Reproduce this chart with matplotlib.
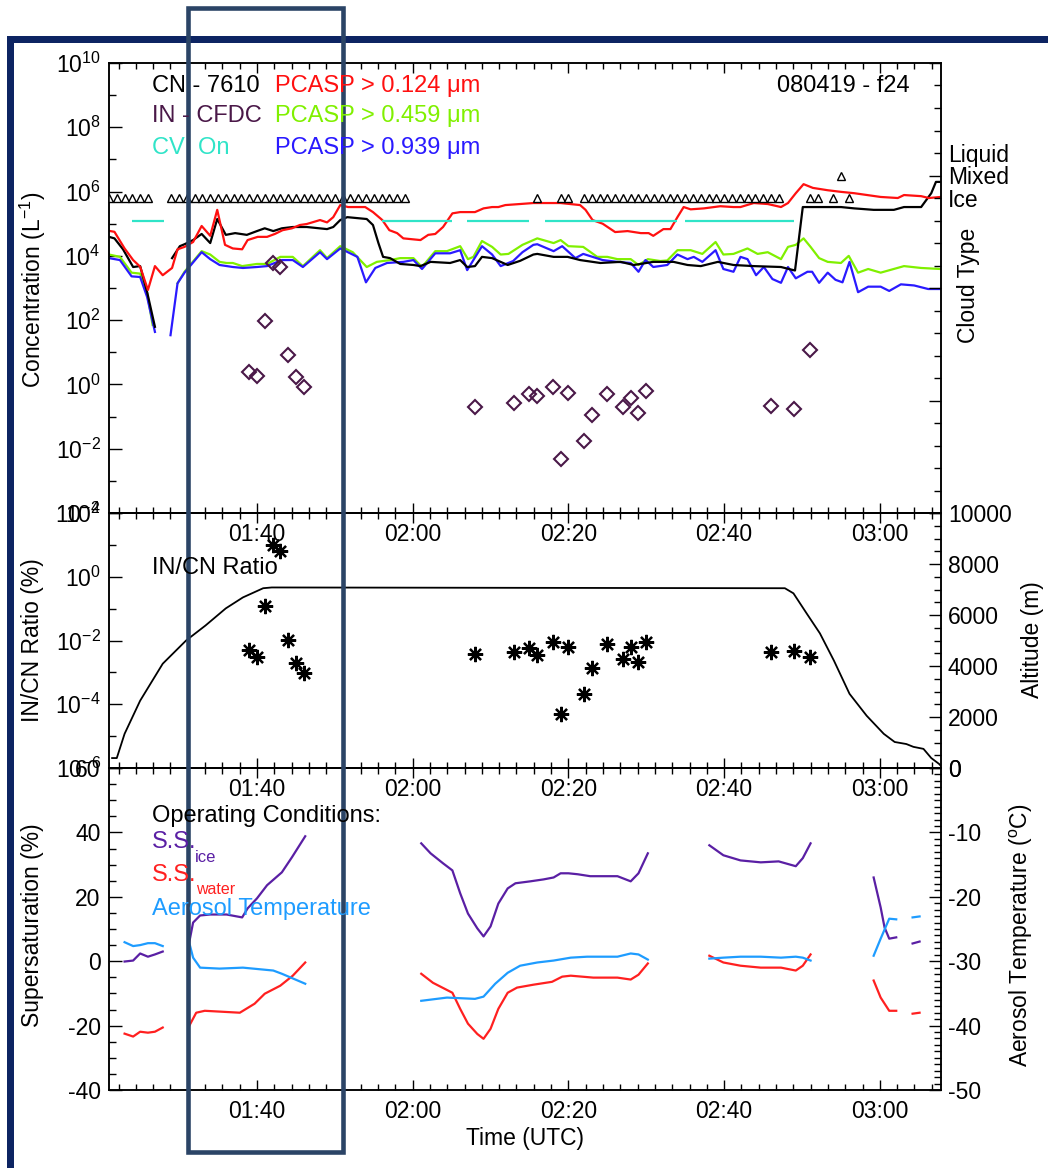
import numpy as np
import matplotlib
matplotlib.use("Agg")
import matplotlib.pyplot as plt
from matplotlib.ticker import (FixedLocator, MultipleLocator, FuncFormatter,
                               LogFormatterMathtext, NullFormatter)
from matplotlib.patches import Rectangle
from matplotlib.transforms import offset_copy

plt.rcParams['font.family'] = ['Liberation Sans', 'DejaVu Sans']
plt.rcParams['mathtext.fontset'] = 'custom'
plt.rcParams['mathtext.rm'] = 'Liberation Sans'
plt.rcParams['mathtext.it'] = 'Liberation Sans:italic'
plt.rcParams['mathtext.bf'] = 'Liberation Sans:bold'
plt.rcParams['mathtext.default'] = 'regular'
plt.rcParams['axes.unicode_minus'] = False

nan = np.nan

# ---------------- flight 080419 - f24, time in minutes after 00:00 UTC ----------------
# PCASP > 0.124 um (L^-1)
red_t = [81.0, 81.7, 83.0, 84.1, 85.0, 86.0, 86.9, 87.9, 89.1, 89.8,
         90.7, 91.8, 92.9, 94.0, 94.9, 95.9, 96.9, 98.1, 98.8, 100.1,
         101.3, 102.3, 103.3, 104.5, 105.5, 106.4, 108.1, 109.0, 109.8, 110.7,
         111.7, 113.9, 114.9, 116.1, 117.0, 118.0, 118.8, 121.0, 122.0, 122.9,
         123.9, 125.1, 126.1, 128.0, 129.1, 130.2, 131.0, 131.9, 133.8, 135.5,
         139.0, 141.5, 142.2, 143.1, 144.4, 146.0, 147.6, 149.3, 150.3, 150.9,
         152.2, 153.1, 154.0, 154.8, 155.7, 157.4, 159.5, 161.2, 162.1, 163.8,
         165.6, 167.3, 168.2, 169.2, 170.2, 171.4, 173.3, 175.0, 176.7, 180.1,
         182.3, 183.1, 185.3, 186.3, 187.8]
red_v = [6.0e4, 5.6e4, 1.7e4, 7.4e3, 4.6e3, 8.7e2, 4.8e3, 2.5e3, 4.2e3, 1.6e4,
         1.9e4, 2.7e4, 8.5e4, 4.2e4, 2.7e5, 2.2e4, 1.7e4, 1.6e4, 3.1e4, 3.9e4,
         3.9e4, 4.8e4, 6.3e4, 7.2e4, 9.1e4, 9.8e4, 1.3e5, 1.1e5, 1.6e5, 3.8e5,
         3.3e5, 3.3e5, 2.3e5, 1.3e5, 6.3e4, 5.1e4, 3.5e4, 3.1e4, 4.5e4, 4.8e4,
         7.9e4, 2.1e5, 2.3e5, 2.3e5, 3.0e5, 3.3e5, 3.3e5, 3.8e5, 4.1e5, 4.4e5,
         4.4e5, 3.8e5, 2.7e5, 1.3e5, 1.0e5, 5.5e4, 5.9e4, 5.1e4, 5.1e4, 4.2e4,
         6.8e4, 6.8e4, 1.6e5, 3.3e5, 2.8e5, 3.0e5, 3.5e5, 3.3e5, 3.3e5, 4.4e5,
         4.1e5, 3.3e5, 4.4e5, 8.9e5, 1.7e6, 1.3e6, 1.1e6, 9.8e5, 8.9e5, 6.8e5,
         6.3e5, 7.8e5, 7.2e5, 6.3e5, 6.8e5]

# CN - 7610 (L^-1)
cn_t = [81.0, 81.7, 82.8, 84.1, 85.0, 85.9, 86.9, nan, 89.1, 90.1,
        90.7, 91.8, 92.9, 94.0, 94.9, 96.0, 97.2, 98.7, 100.0, 101.0,
        102.1, 103.2, 104.6, 106.4, 109.0, 109.8, 110.7, 111.6, 114.1, 114.9,
        115.6, 116.2, 117.1, 118.4, 120.1, 121.0, 122.3, 124.8, 126.1, 127.0,
        128.0, 128.9, 130.2, 132.2, 133.8, 135.5, 136.0, 138.1, 139.9, 141.5,
        144.1, 146.7, 148.4, 150.9, 153.5, 155.3, 157.0, 159.2, 161.2, 163.8,
        167.3, 169.1, 170.1, 171.1, 175.0, 176.7, 179.2, 181.8, 183.1, 185.3,
        186.6, 187.2, 187.85]
cn_v = [3.9e4, 3.5e4, 1.6e4, 4.5e3, 4.8e3, 7.4e2, 62, nan, 8.5e3, 2.0e4,
        2.3e4, 3.1e4, 4.8e4, 2.5e4, 1.4e5, 4.5e4, 5.1e4, 4.5e4, 5.9e4, 7.2e4,
        5.9e4, 7.2e4, 7.9e4, 7.9e4, 6.8e4, 7.9e4, 1.3e5, 1.6e5, 1.4e5, 9.1e4,
        2.5e4, 9.3e3, 8.5e3, 5.6e3, 5.2e3, 4.8e3, 6.5e3, 6.0e3, 7.4e3, 4.5e3,
        4.8e3, 9.3e3, 8.5e3, 5.2e3, 7.0e3, 1.1e4, 1.15e4, 9.3e3, 9.3e3, 7.4e3,
        6.0e3, 6.5e3, 5.2e3, 6.5e3, 6.5e3, 5.2e3, 4.8e3, 6.5e3, 5.2e3, 4.8e3,
        4.5e3, 3.5e3, 3.3e5, 3.3e5, 3.3e5, 3.0e5, 2.7e5, 2.7e5, 3.3e5, 3.3e5,
        8.9e5, 2.0e6, 2.0e6]

# PCASP > 0.459 um (L^-1)
grn_t = [81.0, 82.4, 83.9, 85.0, 85.9, 86.6, nan, 89.8, 90.7, 92.9,
         94.0, 95.2, 96.1, 96.9, 98.1, 100.0, 101.3, 103.0, 104.6, 105.9,
         108.1, 109.0, 110.7, 112.3, 114.1, 115.4, 117.1, 118.4, 120.1, 121.2,
         122.9, 124.4, 126.1, 127.1, 127.8, 128.9, 130.2, 131.3, 132.3, 134.1,
         136.0, 138.1, 139.0, 140.0, 141.9, 143.7, 145.0, 146.3, 148.0, 149.0,
         150.2, 151.8, 152.7, 154.0, 155.7, 157.2, 158.9, 159.9, 161.2, 163.0,
         164.3, 165.6, 167.3, 168.2, 169.2, 170.2, 171.1, 172.2, 173.3, 175.0,
         176.0, 177.2, 178.5, 180.1, 183.1, 185.3, 187.8]
grn_v = [1.1e4, 9.3e3, 3.0e3, 2.8e3, 6.9e2, 71, nan, 1.4e3, 3.2e3, 1.4e4,
         1.1e4, 6.5e3, 6.0e3, 6.0e3, 4.8e3, 5.6e3, 5.6e3, 9.3e3, 9.3e3, 4.8e3,
         1.5e4, 8.5e3, 2.0e4, 1.3e4, 4.5e3, 6.5e3, 7.4e3, 8.5e3, 8.5e3, 4.5e3,
         1.4e4, 1.4e4, 2.0e4, 7.9e3, 9.3e3, 2.9e4, 1.9e4, 1.1e4, 1.15e4, 2.2e4,
         3.5e4, 2.5e4, 3.1e4, 2.0e4, 1.9e4, 9.3e3, 9.3e3, 7.9e3, 7.9e3, 5.2e3,
         7.9e3, 6.9e3, 7.2e3, 1.5e4, 1.5e4, 1.15e4, 2.7e4, 1.1e4, 1.15e4, 1.7e4,
         1.15e4, 1.3e4, 7.9e3, 1.9e4, 2.2e4, 3.5e4, 1.9e4, 8.5e3, 6.5e3, 6.0e3,
         1.0e4, 3.0e3, 3.9e3, 3.0e3, 4.8e3, 4.2e3, 3.9e3]

# PCASP > 0.939 um (L^-1)
blu_t = [81.0, 82.4, 83.9, 85.0, 85.9, 86.9, nan, 88.9, 89.8, 90.7,
         92.9, 94.0, 95.2, 96.9, 98.2, 100.0, 101.3, 103.2, 104.6, 105.9,
         108.1, 109.0, 110.7, 112.9, 114.0, 115.2, 116.7, 118.8, 120.1, 121.2,
         122.9, 124.8, 126.1, 127.0, 128.9, 130.2, 131.3, 132.9, 134.1, 135.5,
         136.0, 138.1, 139.2, 140.9, 141.9, 144.4, 146.3, 148.0, 149.0, 149.9,
         150.9, 152.7, 154.0, 155.3, 156.1, 157.2, 158.9, 159.9, 161.2, 162.1,
         163.0, 164.1, 165.1, 166.2, 167.3, 168.2, 169.2, 170.7, 171.3, 172.2,
         173.3, 174.3, 175.2, 176.1, 177.2, 178.5, 180.1, 181.2, 182.7, 184.4,
         186.2, 187.8]
blu_v = [8.5e3, 7.4e3, 2.3e3, 2.2e3, 5.2e2, 43, nan, 34, 1.4e3, 3.0e3,
         1.3e4, 7.9e3, 5.2e3, 4.5e3, 4.2e3, 4.5e3, 4.8e3, 7.4e3, 7.4e3, 4.5e3,
         1.3e4, 7.9e3, 1.7e4, 9.3e3, 1.5e3, 4.2e3, 6.0e3, 6.5e3, 7.4e3, 3.9e3,
         1.2e4, 1.2e4, 1.5e4, 3.6e3, 2.0e4, 1.1e4, 4.8e3, 6.9e3, 1.3e4, 2.2e4,
         2.3e4, 1.4e4, 2.0e4, 8.5e3, 1.15e4, 7.4e3, 6.5e3, 6.0e3, 3.2e3, 7.4e3,
         4.5e3, 5.2e3, 1.1e4, 7.9e3, 9.3e3, 6.5e3, 1.5e4, 3.9e3, 3.2e3, 9.3e3,
         7.9e3, 2.5e3, 4.5e3, 1.9e3, 1.45e3, 4.5e3, 2.0e3, 3.2e3, 3.2e3, 1.45e3,
         3.0e3, 1.8e3, 1.5e3, 6.5e3, 7.4e2, 1.1e3, 1.1e3, 8.1e2, 1.3e3, 1.2e3,
         9.3e2, 9.3e2]

# IN - CFDC samples: concentration (L^-1) and IN/CN ratio (%)
in_t = [99, 100, 101, 102, 103, 104, 105, 106, 128, 133, 135, 136, 138,
        139, 140, 142, 143, 145, 147, 148, 149, 150, 166, 169, 171]
in_v = [2.4, 1.8, 93, 6.0e3, 4.5e3, 8.3, 1.7, 0.83, 0.20, 0.26, 0.50, 0.43, 0.83,
        0.0048, 0.54, 0.017, 0.11, 0.50, 0.20, 0.38, 0.13, 0.62, 0.21, 0.17, 11.7]
ratio_v = [5.1e-3, 3.1e-3, 0.12, 10, 6.5, 1.05e-2, 2.0e-3, 9.6e-4, 3.8e-3, 4.4e-3,
           5.9e-3, 3.5e-3, 9.2e-3, 5.0e-5, 6.3e-3, 2.1e-4, 1.4e-3, 7.8e-3, 2.6e-3,
           6.3e-3, 2.1e-3, 9.2e-3, 4.4e-3, 4.7e-3, 3.1e-3]

# Cloud type (Ice / Mixed / Liquid) and CVI status
cloud_levels = {'Ice': 14, 'Mixed': 15, 'Liquid': 16}
ice_t = (list(range(81, 87)) + list(range(89, 120)) + [136, 139, 140]
         + list(range(142, 168)) + [171, 172, 174, 176])
mixed_t = [175]
ice_runs = [(81, 86), (89, 119), (142, 167)]
cv_on_start = [84, 116, 127, 137, 155]
cv_on_end = [88, 125, 135, 154, 169]
cv_level = 13

# Aircraft altitude (m)
alt_t = [81.4, 82.0, 83.0, 85.0, 87.9, 90.9, 93.4, 96.0, 98.2, 100.8, 101.9, 167.8,
         168.9, 170.6, 172.3, 174.1, 176.1, 178.3, 180.5, 181.9, 183.4, 184.3,
         185.6, 186.6, 187.6, 187.85]
alt_v = [390, 390, 1340, 2640, 4090, 5000, 5590, 6260, 6690, 7050, 7080, 7050,
         6850, 6060, 5280, 4210, 2910, 2050, 1340, 1020, 940, 830,
         750, 390, 160, 80]

# CFDC operating conditions
ssi_t = [83.0, 84.1, 85.0, 86.0, 86.9, 87.9, nan,
         91.3, 91.8, 92.7, 94.0, 96.1, 98.1, 98.8, 100.0, 101.3, 103.2, 104.5, 106.2, nan,
         121.1, 122.3, 123.9, 125.1, 126.1, 127.1, 128.3, 129.1, 130.0, 131.0, 132.2,
         133.2, 135.1, 136.8, 138.1, 139.0, 140.0, 141.2, 142.8, 146.3, 148.0, 149.0, 150.2, nan,
         158.1, 159.9, 162.1, 164.7, 167.0, 169.2, 170.1, 171.1, nan,
         179.2, 180.1, 180.6, 181.2, 182.1, nan,
         184.2, 185.1]
ssi_v = [-0.1, 0.2, 2.4, 1.4, 2.1, 3.0, nan,
         5.8, 12.0, 14.2, 14.5, 14.5, 13.6, 16.4, 19.5, 23.6, 27.6, 32.3, 38.8, nan,
         36.6, 33.5, 30.4, 28.2, 21.1, 14.8, 10.2, 7.7, 10.8, 17.9, 22.6,
         24.2, 24.8, 25.4, 26.0, 27.3, 27.3, 27.0, 26.4, 26.4, 24.8, 27.3, 33.5, nan,
         36.0, 32.9, 31.3, 30.7, 31.0, 29.5, 32.0, 36.6, nan,
         26.0, 16.7, 10.5, 7.0, 7.4, nan,
         5.5, 6.1]
ssw_t = [83.0, 84.1, 85.0, 86.0, 86.9, 87.9, nan,
         91.3, 92.2, 93.3, 97.8, 99.7, 101.0, 103.0, 104.6, 106.2, nan,
         121.1, 122.6, 125.1, 126.1, 127.1, 128.3, 129.1, 130.0, 131.0, 132.2,
         133.4, 135.5, 137.9, 139.2, 140.3, 143.2, 146.3, 148.0, 149.0, 150.2, nan,
         158.1, 159.9, 162.1, 164.7, 167.3, 169.2, 170.1, 171.1, nan,
         179.2, 180.1, 181.2, 182.1, nan,
         184.2, 185.1]
ssw_v = [-22.5, -23.4, -21.9, -22.2, -21.9, -20.6, nan,
         -20.1, -16.0, -15.4, -16.0, -13.2, -10.1, -7.6, -4.5, -0.4, nan,
         -3.9, -6.7, -9.8, -14.8, -19.4, -22.6, -24.1, -21.0, -14.8, -9.8,
         -8.2, -7.3, -6.4, -4.8, -4.5, -5.1, -5.1, -5.7, -4.2, -0.7, nan,
         1.7, -0.4, -1.4, -2.0, -2.0, -2.9, -1.4, 2.1, nan,
         -6.0, -11.3, -15.4, -15.4, nan,
         -16.3, -16.0]
aer_t = [83.0, 84.1, 85.0, 86.0, 86.9, 87.9, nan,
         91.3, 91.8, 92.7, 95.2, 98.2, 102.1, 103.2, 106.2, nan,
         121.1, 124.4, 128.0, 129.1, 130.6, 132.2, 133.8, 136.0, 138.1, 140.3,
         142.4, 146.3, 148.0, 149.0, 150.2, nan,
         158.1, 159.9, 162.1, 164.7, 167.3, 169.2, 170.1, 171.1, nan,
         179.2, 180.1, 181.2, 182.1, nan,
         184.2, 185.1]
aer_v = [-27.05, -27.65, -27.5, -27.2, -27.2, -27.65, nan,
         -27.1, -29.45, -31.0, -31.15, -31.0, -31.45, -31.95, -33.5, nan,
         -36.15, -35.65, -35.85, -35.5, -33.5, -31.8, -30.7, -30.2, -29.9, -29.45,
         -29.3, -29.3, -28.8, -28.95, -29.75, nan,
         -29.6, -29.45, -29.3, -29.3, -29.45, -29.3, -29.45, -29.9, nan,
         -29.15, -26.5, -23.4, -23.5, nan,
         -23.2, -23.05]

time_ticks = [100, 120, 140, 160, 180]
t_min, t_max = 81.0, 187.85

# ---------------- colours ----------------
C_RED = '#ff1010'
C_GRN = '#80f000'
C_BLU = '#2a1aff'
C_IN = '#4a1848'
C_CV = '#30e4c8'
C_SSI = '#5a1fa4'
C_SSW = '#ff2020'
C_AER = '#1e9cff'

W, H = 1048, 1168
fig = plt.figure(figsize=(W / 100, H / 100), dpi=100)
fig.patch.set_facecolor('white')


def fx(px):
    return px / W


def fy(py):
    return 1 - py / H


X0, X1 = 109, 941
panels = [(63, 513), (513, 768), (768, 1090)]
axes = []
for top, bot in panels:
    ax = fig.add_axes([fx(X0), fy(bot), (X1 - X0) / W, (bot - top) / H])
    ax.set_facecolor('none')
    axes.append(ax)
ax1, ax2, ax3 = axes
ax1r, ax2r, ax3r = ax1.twinx(), ax2.twinx(), ax3.twinx()

TICK_FS = 16.5
LBL_FS = 16.5
ANN_FS = 17


def hhmm(v, _):
    v = int(round(v))
    return f"{v // 60:02d}:{v % 60:02d}"


for ax in axes:
    ax.set_xlim(t_min, t_max)
    ax.xaxis.set_major_locator(FixedLocator(time_ticks))
    ax.xaxis.set_minor_locator(MultipleLocator(20 / 9))
    ax.xaxis.set_major_formatter(FuncFormatter(hhmm))
    ax.tick_params(axis='x', which='both', direction='in', top=True, bottom=True,
                   labelsize=TICK_FS, pad=7, width=1.0)
    ax.tick_params(axis='x', which='major', length=7)
    ax.tick_params(axis='x', which='minor', length=4)
    ax.tick_params(axis='y', which='both', direction='in', labelsize=TICK_FS, pad=6, width=1.0)
    ax.tick_params(axis='y', which='major', length=9)
    ax.tick_params(axis='y', which='minor', length=5)
for ax in (ax1r, ax2r, ax3r):
    ax.set_facecolor('none')
    ax.tick_params(axis='y', which='both', direction='in', labelsize=TICK_FS, pad=5, width=1.0)
    ax.tick_params(axis='y', which='major', length=9)
    ax.tick_params(axis='y', which='minor', length=5)
for ax in axes + [ax1r, ax2r, ax3r]:
    for s in ax.spines.values():
        s.set_linewidth(1.1)

# ---------------- panel 1: concentrations ----------------
ax1.set_yscale('log')
ax1.set_ylim(1e-4, 1e10)
ax1.yaxis.set_major_locator(FixedLocator(10.0 ** np.arange(-4, 11, 2)))
ax1.yaxis.set_minor_locator(FixedLocator(10.0 ** np.arange(-3, 10, 2)))
ax1.yaxis.set_major_formatter(LogFormatterMathtext())
ax1.yaxis.set_minor_formatter(NullFormatter())

ax1.plot(grn_t, grn_v, color=C_GRN, lw=1.6)
ax1.plot(blu_t, blu_v, color=C_BLU, lw=1.6)
ax1.plot(cn_t, cn_v, color='black', lw=1.6)
ax1.plot(red_t, red_v, color=C_RED, lw=1.6)
ax1.plot(in_t, in_v, ls='none', marker='D', ms=7, mfc='none', mec=C_IN, mew=1.5)

ax1r.set_ylim(0, 20)
ax1r.yaxis.set_major_locator(FixedLocator([0, 5, 10, 15, 20]))
ax1r.yaxis.set_minor_locator(MultipleLocator(1))
level_names = {v: k for k, v in cloud_levels.items()}
ax1r.yaxis.set_major_formatter(FuncFormatter(lambda v, _: level_names.get(int(round(v)), '')))
ax1r.yaxis.set_minor_formatter(FuncFormatter(lambda v, _: level_names.get(int(round(v)), '')))
ax1r.tick_params(axis='y', which='minor', labelsize=TICK_FS, pad=5)

ax1r.hlines([cv_level] * len(cv_on_start), cv_on_start, cv_on_end, color=C_CV, lw=1.6)
MS_TRI = 6.4
base = offset_copy(ax1r.transData, fig=fig, x=0, y=-MS_TRI * 0.5 * 100 / 72, units='dots')
run_t, run_y = [], []
for a, b in ice_runs:
    run_t += [a, b, nan]
    run_y += [cloud_levels['Ice']] * 2 + [nan]
ax1r.plot(run_t, run_y, color='black', lw=1.3, transform=base)
ax1r.plot(ice_t, [cloud_levels['Ice']] * len(ice_t), ls='none', marker='^', ms=MS_TRI,
          mfc='white', mec='black', mew=1.0)
ax1r.plot(mixed_t, [cloud_levels['Mixed']] * len(mixed_t), ls='none', marker='^', ms=MS_TRI,
          mfc='white', mec='black', mew=1.0)

# ---------------- panel 2: IN/CN ratio and altitude ----------------
ax2.set_yscale('log')
ax2.set_ylim(1e-6, 1e2)
ax2.yaxis.set_major_locator(FixedLocator(10.0 ** np.arange(-6, 3, 2)))
ax2.yaxis.set_minor_locator(FixedLocator(10.0 ** np.arange(-5, 2, 2)))
ax2.yaxis.set_major_formatter(LogFormatterMathtext())
ax2.yaxis.set_minor_formatter(NullFormatter())
ax2.plot(in_t, ratio_v, ls='none', marker=(8, 2, 0), ms=11, mew=1.6, color='black')

ax2r.set_ylim(0, 10000)
ax2r.yaxis.set_major_locator(MultipleLocator(2000))
ax2r.yaxis.set_minor_locator(MultipleLocator(500))
ax2r.plot(alt_t, alt_v, color='black', lw=1.3)

# ---------------- panel 3: operating conditions ----------------
ax3.set_ylim(-40, 60)
ax3.yaxis.set_major_locator(MultipleLocator(20))
ax3.yaxis.set_minor_locator(MultipleLocator(5))
ax3.plot(ssi_t, ssi_v, color=C_SSI, lw=1.6)
ax3.plot(ssw_t, ssw_v, color=C_SSW, lw=1.6)
ax3r.set_ylim(-50, 0)
ax3r.yaxis.set_major_locator(MultipleLocator(10))
ax3r.yaxis.set_minor_locator(MultipleLocator(1))
ax3r.plot(aer_t, aer_v, color=C_AER, lw=1.6)

# ---------------- annotation text ----------------
def ftext(px, py, s, **kw):
    kw.setdefault('fontsize', ANN_FS)
    kw.setdefault('va', 'center')
    fig.text(fx(px), fy(py), s, **kw)


ftext(152, 86, 'CN - 7610', color='black')
ftext(275, 86, 'PCASP > 0.124 \u03bcm', color=C_RED)
ftext(152, 116, 'IN - CFDC', color=C_IN)
ftext(275, 116, 'PCASP > 0.459 \u03bcm', color=C_GRN)
ftext(152, 148, 'CV  On', color=C_CV)
ftext(275, 148, 'PCASP > 0.939 \u03bcm', color=C_BLU)
ftext(910, 86, '080419 - f24', color='black', ha='right')

ftext(152, 568, 'IN/CN Ratio', color='black')

ftext(152, 816, 'Operating Conditions:', color='black')
ftext(152, 842, 'S.S.', color=C_SSI)
ftext(195, 858, 'ice', color=C_SSI, fontsize=12)
ftext(152, 875, 'S.S.', color=C_SSW)
ftext(196, 890, 'water', color=C_SSW, fontsize=11.5)
ftext(152, 909, 'Aerosol Temperature', color=C_AER)

ftext(33, 290, 'Concentration (L$^{-1}$)', rotation=90, ha='center', fontsize=LBL_FS)
ftext(33, 640, 'IN/CN Ratio (%)', rotation=90, ha='center', fontsize=LBL_FS)
ftext(33, 925, 'Supersaturation (%)', rotation=90, ha='center', fontsize=LBL_FS)
ftext(968, 285, 'Cloud Type', rotation=90, ha='center', fontsize=LBL_FS)
ftext(1032, 640, 'Altitude (m)', rotation=90, ha='center', fontsize=LBL_FS)
ftext(1021, 935, 'Aerosol Temperature ($^{o}$C)', rotation=90, ha='center', fontsize=LBL_FS)
ftext(525, 1138, 'Time (UTC)', ha='center', fontsize=LBL_FS)

# ---------------- slide frame and highlight box ----------------
NAVY = '#0d2462'
fig.add_artist(Rectangle((fx(7), 0), 7 / W, fy(36), transform=fig.transFigure,
                         facecolor=NAVY, edgecolor='none'))
fig.add_artist(Rectangle((fx(7), fy(43)), 1 - fx(7), 7 / H, transform=fig.transFigure,
                         facecolor=NAVY, edgecolor='none'))
fig.add_artist(Rectangle((fx(188), fy(1152)), (343 - 188) / W, (1152 - 8) / H,
                         transform=fig.transFigure, fill=False, edgecolor='#2b4466',
                         linewidth=3.3))

fig.savefig('out.png', dpi=100, facecolor='white')
